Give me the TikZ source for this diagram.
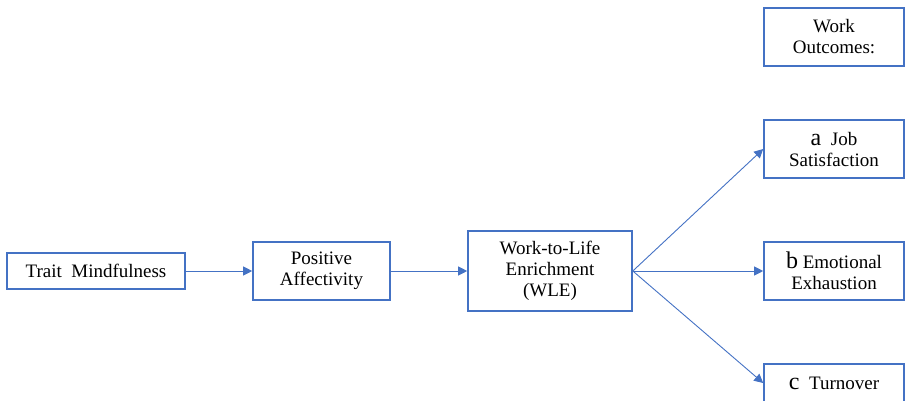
\documentclass[tikz,border=0pt]{standalone}
\usepackage{fontspec}
\setmainfont{Liberation Serif}
\usetikzlibrary{arrows.meta}
\definecolor{boxblue}{RGB}{68,114,196}
\newcommand{\lett}[1]{{\fontsize{24}{21}\selectfont #1}}
\begin{document}
\begin{tikzpicture}
  [x=1pt,y=-1pt,every node/.style={draw=boxblue,line width=1.6pt,align=center,inner sep=0pt,
     font=\rmfamily\fontsize{19}{21}\selectfont},
   link/.style={draw=boxblue,line width=0.9pt,-{Triangle[length=9pt,width=9pt]}}]
\clip (0,0) rectangle (906,400);
\node (tm)[minimum width=178pt,minimum height=36pt] at (96,271) {Trait\ \ Mindfulness};
  \node (pa)[minimum width=137pt,minimum height=58pt] at (321.5,271) {Positive\\Affectivity};
  \node (wle)[minimum width=164pt,minimum height=80pt] at (550,271) {Work-to-Life\\Enrichment\\(WLE)};
  \node (wo)[minimum width=140pt,minimum height=58pt] at (834,37) {Work\\Outcomes:};
  \node (js)[minimum width=140pt,minimum height=58pt] at (834,149) {\lett{a}\ \ Job\\Satisfaction};
  \node (ee)[minimum width=140pt,minimum height=58pt] at (834,271) {\lett{b} Emotional\\Exhaustion};
  \node (tu)[minimum width=140pt,minimum height=38pt] at (834,383) {\lett{c}\ \ Turnover};
 \foreach \from/\to in {tm/pa,pa/wle}
    \draw[link] (\from) -- (\to);
 \foreach \to in {js,ee,tu}
    \draw[link] (wle.east) -- (\to.west);
\end{tikzpicture}
\end{document}
